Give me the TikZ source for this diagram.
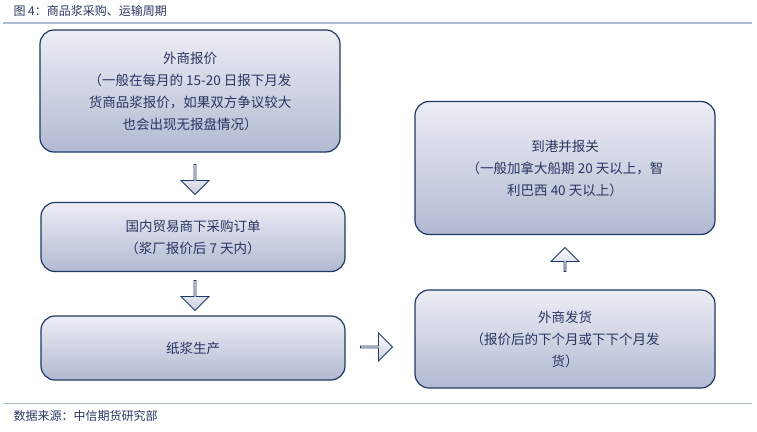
\documentclass[tikz,border=0pt]{standalone}
\usepackage{fontspec}
\setmainfont{Liberation Sans}
\newfontfamily\cjk{Noto Sans CJK SC}
\usetikzlibrary{shapes.arrows}
\definecolor{bd}{HTML}{1F3864}
\definecolor{tx}{HTML}{2A3560}
\definecolor{ftop}{HTML}{ECEEF5}
\definecolor{fbot}{HTML}{B2B9D2}
\definecolor{rule}{HTML}{A9BCD4}
\begin{document}
\begin{tikzpicture}[x=1pt,y=-1pt,
  box/.style={draw=bd,line width=1.2pt,rounded corners=14pt,top color=ftop,bottom color=fbot,
    text=tx,align=center,font=\cjk\fontsize{13.5}{22}\selectfont,inner sep=0pt},
  barr/.style={single arrow,draw=bd,line width=0.9pt,top color=white,bottom color=fbot!70,
    minimum width=28pt,minimum height=30pt,single arrow head extend=6pt,inner sep=0pt}]
\useasboundingbox (0,0) rectangle (757,431);
\node[anchor=west,text=tx,font=\cjk\fontsize{12}{14}\selectfont] (title) at (10,11) {图 4：商品浆采购、运输周期};
\draw[rule,line width=1.5pt] (3,23) -- (752,23);
\draw[rule,line width=1pt] (3,403) -- (752,403);
\node[anchor=west,text=tx,font=\cjk\fontsize{12}{14}\selectfont] (src) at (10,416) {数据来源：中信期货研究部};

\node[box,minimum width=300pt,minimum height=122pt] (a) at (190,91)
 {外商报价\\（一般在每月的 15-20 日报下月发\\货商品浆报价，如果双方争议较大\\也会出现无报盘情况）};
\node[box,minimum width=304pt,minimum height=69pt] (b) at (193,237)
 {国内贸易商下采购订单\\（浆厂报价后 7 天内）};
\node[box,minimum width=304pt,minimum height=64pt] (c) at (193,348) {纸浆生产};
\node[box,minimum width=300pt,minimum height=133pt] (d) at (565,168)
 {到港并报关\\（一般加拿大船期 20 天以上，智\\利巴西 40 天以上）};
\node[box,minimum width=300pt,minimum height=98pt] (e) at (565,339)
 {外商发货\\（报价后的下个月或下下个月发\\货）};

\node[barr,shape border rotate=270] (ab) at (195,179) {};
\node[barr,shape border rotate=270] (bc) at (195,295) {};
\node[barr,shape border rotate=0,minimum height=32pt] (ce) at (376,347) {};
\node[barr,shape border rotate=90,minimum height=24pt] (ed) at (565,260) {};
\end{tikzpicture}
\end{document}
